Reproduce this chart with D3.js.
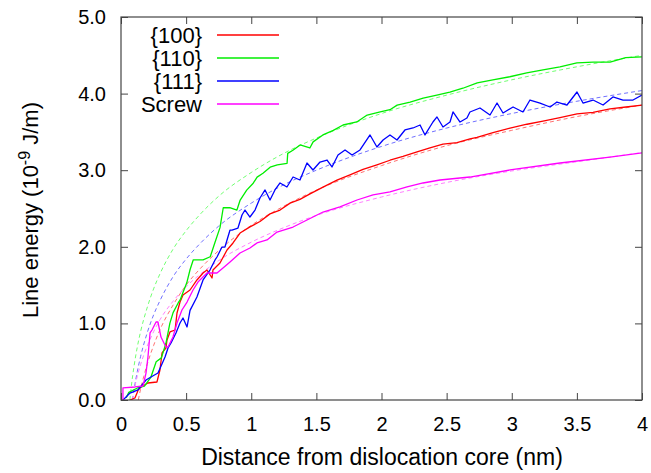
<!DOCTYPE html>
<html><head><meta charset="utf-8">
<script src="https://cdn.jsdelivr.net/npm/d3@7"></script>
<style>
body{margin:0;background:#fff;}
text{font-family:"Liberation Sans",Arial,Helvetica,sans-serif;fill:#000;}
</style></head>
<body><svg id="c" width="651" height="473"></svg>
<script>
const seriesNames = ["{100}","{110}","{111}","Screw"];
const seriesColors = ["#ff0000","#00ee00","#0000ff","#ff00ff"];
const fitColors = ["#ff7070","#70ff70","#7070ff","#ff80ff"];
const xTicks = [0,0.5,1,1.5,2,2.5,3,3.5,4];
const yTicks = [0,1,2,3,4,5];

// {100}
const x100 = [0.069,0.107,0.123,0.131,0.154,0.207,0.276,0.299,0.315,0.345,0.353,0.376,0.415,0.430,0.453,0.476,0.53,0.583,0.63,0.66,0.699,0.706,0.76,0.814,0.86,0.914,0.99,1.067,1.144,1.221,1.298,1.374,1.451,1.551,1.658,1.758,1.858,1.965,2.065,2.165,2.273,2.372,2.472,2.58,2.679,2.733,2.856,2.987,3.117,3.24,3.37,3.501,3.624,3.754,3.877,4.0];
const y100 = [0.0,0.026,0.091,0.131,0.170,0.222,0.235,0.392,0.614,0.679,0.783,0.888,0.914,1.136,1.279,1.371,1.436,1.567,1.658,1.697,1.593,1.697,1.789,1.958,2.05,2.180,2.260,2.330,2.430,2.480,2.570,2.620,2.690,2.780,2.870,2.940,3.010,3.070,3.130,3.180,3.240,3.290,3.340,3.360,3.41,3.430,3.490,3.550,3.600,3.640,3.685,3.735,3.755,3.800,3.825,3.850];
// {110}
const x110 = [0.04,0.06,0.13,0.18,0.23,0.27,0.31,0.345,0.375,0.40,0.44,0.455,0.475,0.505,0.53,0.555,0.63,0.685,0.72,0.76,0.785,0.835,0.89,0.915,0.965,1.015,1.045,1.09,1.145,1.2,1.275,1.28,1.32,1.375,1.45,1.475,1.55,1.63,1.705,1.81,1.89,1.99,2.065,2.12,2.22,2.32,2.425,2.525,2.625,2.735,2.855,2.985,3.115,3.24,3.37,3.5,3.625,3.755,3.875,4.0];
const y110 = [0.03,0.10,0.16,0.18,0.30,0.50,0.55,0.74,1.00,1.14,1.27,1.31,1.40,1.53,1.70,1.83,1.83,1.87,2.05,2.25,2.51,2.51,2.48,2.61,2.74,2.83,2.91,2.96,3.04,3.07,3.09,3.22,3.26,3.33,3.29,3.37,3.46,3.52,3.59,3.63,3.72,3.76,3.79,3.85,3.89,3.94,3.98,4.02,4.07,4.14,4.18,4.22,4.27,4.31,4.35,4.40,4.41,4.41,4.47,4.48];
// {111}
const x111 = [0.015,0.031,0.069,0.131,0.192,0.23,0.284,0.338,0.361,0.384,0.422,0.453,0.476,0.507,0.53,0.583,0.63,0.683,0.722,0.737,0.775,0.798,0.837,0.852,0.898,0.929,0.952,0.99,1.029,1.067,1.106,1.144,1.182,1.221,1.274,1.321,1.374,1.428,1.474,1.528,1.582,1.62,1.666,1.72,1.774,1.835,1.912,1.965,2.012,2.065,2.119,2.18,2.242,2.296,2.334,2.395,2.426,2.472,2.526,2.549,2.603,2.656,2.679,2.756,2.833,2.887,2.933,3.01,3.086,3.14,3.217,3.294,3.347,3.424,3.501,3.547,3.624,3.701,3.777,3.854,3.931,4.0];
const y111 = [0.0,0.026,0.091,0.131,0.261,0.30,0.352,0.561,0.679,0.744,0.875,1.005,1.07,0.953,1.17,1.345,1.567,1.697,1.828,1.867,1.997,1.997,2.219,2.219,2.245,2.415,2.48,2.389,2.48,2.637,2.742,2.611,2.742,2.833,2.781,2.911,2.872,3.094,3.003,3.107,3.133,3.042,3.198,3.264,3.198,3.264,3.460,3.303,3.394,3.460,3.394,3.525,3.551,3.590,3.460,3.629,3.695,3.564,3.629,3.760,3.629,3.681,3.760,3.812,3.721,3.877,3.747,3.825,3.760,3.916,3.877,3.825,3.890,3.851,4.021,3.877,3.916,3.851,3.956,3.916,3.916,3.982];
// Screw
const xScrew = [0.015,0.015,0.107,0.169,0.192,0.207,0.223,0.238,0.269,0.284,0.307,0.345,0.361,0.399,0.430,0.468,0.507,0.553,0.591,0.66,0.737,0.783,0.837,0.914,0.99,1.044,1.121,1.198,1.321,1.428,1.551,1.681,1.812,1.935,2.065,2.196,2.319,2.449,2.679,2.987,3.37,3.754,4.0];
const yScrew = [0.0,0.157,0.170,0.183,0.352,0.561,0.875,0.914,1.018,1.018,0.822,0.692,0.692,0.822,1.005,1.175,1.279,1.436,1.540,1.658,1.658,1.723,1.802,1.919,1.984,2.05,2.089,2.193,2.258,2.35,2.454,2.52,2.611,2.677,2.716,2.781,2.833,2.872,2.911,3.003,3.094,3.172,3.225];

// fitted (dashed) curves
const xFit100 = [0.133,0.15,0.175,0.2,0.25,0.3,0.4,0.5,0.6,0.75,1,1.25,1.5,2,2.5,3,3.5,4];
const yFit100 = [0.0,0.14,0.31,0.46,0.71,0.92,1.24,1.50,1.70,1.95,2.28,2.53,2.74,3.06,3.32,3.52,3.70,3.85];
const xFit110 = [0.068,0.08,0.1,0.125,0.15,0.2,0.25,0.3,0.4,0.5,0.6,0.75,1,1.25,1.5,2,2.5,3,3.5,4];
const yFit110 = [0.0,0.19,0.44,0.69,0.89,1.20,1.45,1.65,1.97,2.21,2.41,2.66,2.97,3.22,3.42,3.74,3.98,4.18,4.35,4.50];
const xFit111 = [0.088,0.1,0.125,0.15,0.2,0.25,0.3,0.4,0.5,0.6,0.75,1,1.25,1.5,2,2.5,3,3.5,4];
const yFit111 = [0.0,0.135,0.37,0.565,0.87,1.11,1.30,1.61,1.84,2.03,2.27,2.57,2.81,3.00,3.31,3.55,3.74,3.90,4.04];
const xFitScrew = [0.087,0.1,0.125,0.15,0.2,0.25,0.3,0.4,0.5,0.6,0.75,1,1.25,1.5,2,2.5,3,3.5,4];
const yFitScrew = [0.0,0.12,0.31,0.46,0.70,0.89,1.05,1.29,1.48,1.63,1.82,2.06,2.25,2.41,2.65,2.84,2.99,3.11,3.23];

const solidX = [x100,x110,x111,xScrew], solidY = [y100,y110,y111,yScrew];
const fitX = [xFit100,xFit110,xFit111,xFitScrew], fitY = [yFit100,yFit110,yFit111,yFitScrew];

const svg = d3.select("#c");
const L=121,R=642,T=17,B=400;
const x = d3.scaleLinear().domain([0,4]).range([L,R]);
const y = d3.scaleLinear().domain([0,5]).range([B,T]);

svg.append("defs").append("clipPath").attr("id","clip")
  .append("rect").attr("x",L).attr("y",T).attr("width",R-L).attr("height",B-T);

const g = svg.append("g").attr("clip-path","url(#clip)");
const line = d3.line().x(d=>x(d[0])).y(d=>y(d[1]));
const fitLine = d3.line().x(d=>x(d[0])).y(d=>y(d[1])).curve(d3.curveMonotoneX);

fitX.forEach((xs,i)=>{
  g.append("path").attr("d",fitLine(xs.map((v,j)=>[v,fitY[i][j]])))
   .attr("fill","none").attr("stroke",fitColors[i]).attr("stroke-width",1)
   .attr("stroke-dasharray","4,3");
});
solidX.forEach((xs,i)=>{
  g.append("path").attr("d",line(xs.map((v,j)=>[v,solidY[i][j]])))
   .attr("fill","none").attr("stroke",seriesColors[i]).attr("stroke-width",1.3)
   .attr("stroke-linejoin","round");
});

// axes
const axColor="#444";
function styleAxis(sel){
  sel.select(".domain").remove();
  sel.selectAll(".tick line").attr("stroke",axColor).attr("stroke-width",1);
  sel.selectAll("text").style("font-size","20px").attr("fill","#000");
}
svg.append("g").attr("transform",`translate(0,${B})`)
  .call(d3.axisBottom(x).tickValues(xTicks).tickSizeInner(-7).tickSizeOuter(0).tickPadding(17).tickFormat(d3.format("")))
  .call(styleAxis);
svg.append("g").attr("transform",`translate(0,${T})`)
  .call(d3.axisTop(x).tickValues(xTicks).tickSizeInner(-7).tickSizeOuter(0).tickFormat(""))
  .call(styleAxis);
svg.append("g").attr("transform",`translate(${L},0)`)
  .call(d3.axisLeft(y).tickValues(yTicks).tickSizeInner(-7).tickSizeOuter(0).tickPadding(15).tickFormat(d3.format(".1f")))
  .call(styleAxis);
svg.append("g").attr("transform",`translate(${R},0)`)
  .call(d3.axisRight(y).tickValues(yTicks).tickSizeInner(-7).tickSizeOuter(0).tickFormat(""))
  .call(styleAxis);

svg.append("rect").attr("x",L).attr("y",T).attr("width",R-L).attr("height",B-T)
  .attr("fill","none").attr("stroke",axColor).attr("stroke-width",1.2);

// axis titles
svg.append("text").attr("x",382).attr("y",465).attr("text-anchor","middle")
  .style("font-size","23px").text("Distance from dislocation core (nm)");
const yt = svg.append("text").attr("transform","translate(38,210) rotate(-90)")
  .attr("text-anchor","middle").style("font-size","22px");
yt.append("tspan").text("Line energy (10");
yt.append("tspan").attr("dy",-8).style("font-size","16px").text("-9");
yt.append("tspan").attr("dy",8).text(" J/m)");

// legend
const legY=[35,58,81,104];
seriesNames.forEach((n,i)=>{
  svg.append("text").attr("x",202).attr("y",legY[i]).attr("dy","0.36em")
    .attr("text-anchor","end").style("font-size","22px").text(n);
  svg.append("line").attr("x1",217).attr("x2",279).attr("y1",legY[i]).attr("y2",legY[i])
    .attr("stroke",seriesColors[i]).attr("stroke-width",1.3);
});
</script></body></html>
